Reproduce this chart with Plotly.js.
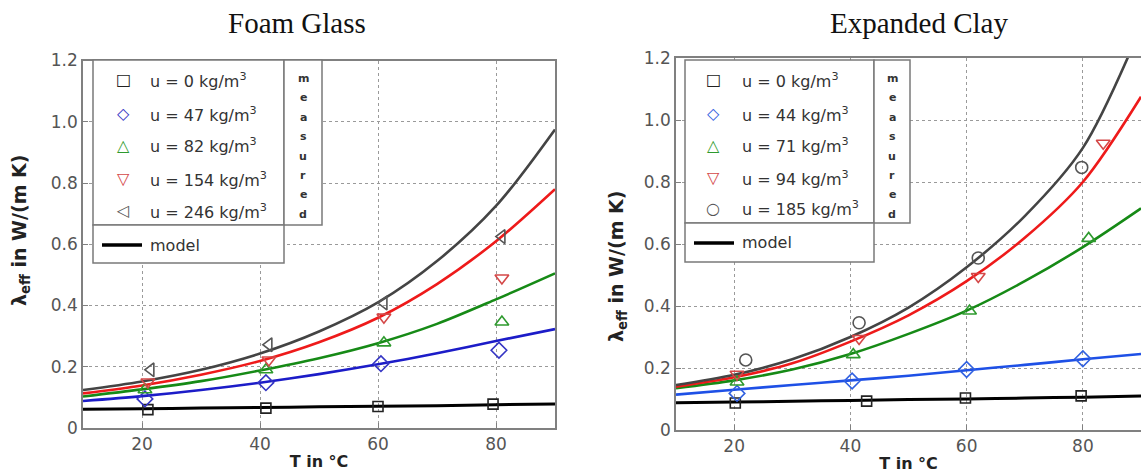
<!DOCTYPE html>
<html><head><meta charset="utf-8">
<script src="https://cdn.plot.ly/plotly-3.0.1.min.js"></script>
<style>html,body{margin:0;padding:0;background:#fff}#chart{width:1141px;height:475px}</style>
</head><body><div id="chart"></div>
<script>
// ================= DATA =================
const titles = ['Foam Glass', 'Expanded Clay'];
const xTickVals = [20, 40, 60, 80];
const yTickVals = [0, 0.2, 0.4, 0.6, 0.8, 1.0, 1.2];
const yTickText = ['0', '0.2', '0.4', '0.6', '0.8', '1.0', '1.2'];

// model curve temperatures (°C)
const T_model = [10, 20, 30, 40, 50, 60, 70, 80, 90];

// ---- Foam Glass ----
const fg_density = [0, 47, 82, 154, 246];
const fg_model_0   = [0.061, 0.063, 0.065, 0.067, 0.069, 0.071, 0.073, 0.076, 0.078];
const fg_model_47  = [0.088, 0.104, 0.124, 0.148, 0.176, 0.208, 0.244, 0.284, 0.323];
const fg_model_82  = [0.103, 0.126, 0.153, 0.188, 0.228, 0.277, 0.340, 0.420, 0.505];
const fg_model_154 = [0.113, 0.139, 0.174, 0.219, 0.280, 0.360, 0.470, 0.610, 0.780];
const fg_model_246 = [0.124, 0.152, 0.190, 0.243, 0.315, 0.410, 0.545, 0.725, 0.975];
const fg_T_0   = [21, 41, 60, 79.5];   const fg_meas_0   = [0.060, 0.065, 0.070, 0.078];
const fg_T_47  = [20.5, 41, 60.5, 80.5]; const fg_meas_47 = [0.095, 0.148, 0.210, 0.254];
const fg_T_82  = [20.5, 41, 61, 81];   const fg_meas_82  = [0.125, 0.190, 0.278, 0.346];
const fg_T_154 = [21, 41.5, 61, 81];   const fg_meas_154 = [0.150, 0.222, 0.362, 0.490];
const fg_T_246 = [21.5, 41.5, 61, 81]; const fg_meas_246 = [0.190, 0.272, 0.408, 0.625];

// ---- Expanded Clay ----
const ec_density = [0, 44, 71, 94, 185];
const ec_model_0   = [0.088, 0.090, 0.093, 0.095, 0.098, 0.100, 0.103, 0.106, 0.110];
const ec_model_44  = [0.114, 0.130, 0.145, 0.160, 0.175, 0.193, 0.210, 0.228, 0.245];
const ec_model_71  = [0.135, 0.160, 0.195, 0.245, 0.310, 0.385, 0.480, 0.590, 0.715];
const ec_model_94  = [0.140, 0.170, 0.215, 0.285, 0.370, 0.480, 0.620, 0.800, 1.075];
const ec_model_185 = [0.145, 0.178, 0.228, 0.300, 0.395, 0.525, 0.690, 0.910, 1.300];
const ec_T_0   = [20.2, 42.8, 59.8, 79.7]; const ec_meas_0   = [0.087, 0.093, 0.103, 0.110];
const ec_T_44  = [20.5, 40.3, 60, 80];     const ec_meas_44  = [0.118, 0.158, 0.195, 0.230];
const ec_T_71  = [20.5, 40.5, 60.5, 81];   const ec_meas_71  = [0.155, 0.243, 0.384, 0.618];
const ec_T_94  = [20.5, 41.5, 62, 83.5];   const ec_meas_94  = [0.180, 0.295, 0.495, 0.925];
const ec_T_185 = [22, 41.5, 62, 79.8];     const ec_meas_185 = [0.226, 0.346, 0.555, 0.847];

// ================= STYLE =================
const W = 1141, H = 475;
const fx = p => p / W;
const fy = p => 1 - p / H;
const SANS = 'DejaVu Sans, Arial, sans-serif';

const fgLineColors = ['#000000', '#1c1cc8', '#168a16', '#ee1a1a', '#444444'];
const ecLineColors = ['#000000', '#1e50e6', '#168a16', '#ee1a1a', '#444444'];
const fgMarkColors = ['#222222', '#3434c4', '#2e9a2e', '#d44848', '#555555'];
const ecMarkColors = ['#222222', '#3060e0', '#2e9a2e', '#d44848', '#555555'];
const fgSymbols = ['square-open', 'diamond-open', 'triangle-up-open', 'triangle-down-open', 'triangle-left-open'];
const ecSymbols = ['square-open', 'diamond-open', 'triangle-up-open', 'triangle-down-open', 'circle-open'];
const fgGlyphs = ['□', '◇', '△', '▽', '◁'];
const ecGlyphs = ['□', '◇', '△', '▽', '○'];
const markSizes = [10, 12, 12, 12, 12];

const fgModels = [fg_model_0, fg_model_47, fg_model_82, fg_model_154, fg_model_246];
const fgMeasT = [fg_T_0, fg_T_47, fg_T_82, fg_T_154, fg_T_246];
const fgMeas = [fg_meas_0, fg_meas_47, fg_meas_82, fg_meas_154, fg_meas_246];
const ecModels = [ec_model_0, ec_model_44, ec_model_71, ec_model_94, ec_model_185];
const ecMeasT = [ec_T_0, ec_T_44, ec_T_71, ec_T_94, ec_T_185];
const ecMeas = [ec_meas_0, ec_meas_44, ec_meas_71, ec_meas_94, ec_meas_185];

const traces = [];
function addSet(models, measT, meas, lineColors, markColors, symbols, density, xa, ya) {
  models.forEach((m, i) => {
    traces.push({x: T_model, y: m, xaxis: xa, yaxis: ya, type: 'scatter', mode: 'lines',
      line: {color: lineColors[i], width: i === 0 ? 3 : 2.6, shape: 'spline', smoothing: 0.9},
      name: 'model u=' + density[i], showlegend: false, hoverinfo: 'skip'});
  });
  meas.forEach((m, i) => {
    traces.push({x: measT[i], y: m, xaxis: xa, yaxis: ya, type: 'scatter', mode: 'markers',
      marker: {symbol: symbols[i], size: markSizes[i], color: markColors[i], line: {width: 1.6, color: markColors[i]}},
      name: 'u=' + density[i], showlegend: false, cliponaxis: false});
  });
}
addSet(fgModels, fgMeasT, fgMeas, fgLineColors, fgMarkColors, fgSymbols, fg_density, 'x', 'y');
addSet(ecModels, ecMeasT, ecMeas, ecLineColors, ecMarkColors, ecSymbols, ec_density, 'x2', 'y2');

function xAxis(domain, anchor) {
  return {domain: domain, anchor: anchor, range: [10, 90], tickvals: xTickVals,
    showgrid: true, gridcolor: '#9a9a9a', griddash: 'dot', gridwidth: 1, zeroline: false,
    showline: true, mirror: true, linecolor: '#808080', linewidth: 1.5,
    ticks: 'inside', ticklen: 5, tickcolor: '#808080',
    tickfont: {family: SANS, size: 17, color: '#555'},
    title: {text: '<b>T in °C</b>', font: {family: SANS, size: 16, color: '#222'}, standoff: 3},
    fixedrange: true};
}
function yAxis(domain, anchor) {
  return {domain: domain, anchor: anchor, range: [0, 1.2], tickvals: yTickVals, ticktext: yTickText,
    showgrid: true, gridcolor: '#9a9a9a', griddash: 'dot', gridwidth: 1, zeroline: false,
    showline: true, mirror: true, linecolor: '#808080', linewidth: 1.5,
    ticks: 'inside', ticklen: 5, tickcolor: '#808080',
    tickfont: {family: SANS, size: 17, color: '#555'}, fixedrange: true};
}

const annotations = [];
const shapes = [];
function ann(text, x, y, font, extra) {
  annotations.push(Object.assign({text: text, x: fx(x), y: fy(y), xref: 'paper', yref: 'paper',
    showarrow: false, xanchor: 'center', yanchor: 'middle', font: font}, extra || {}));
}
function rect(x0, y0, x1, y1) {
  shapes.push({type: 'rect', xref: 'paper', yref: 'paper', x0: fx(x0), x1: fx(x1), y0: fy(y1), y1: fy(y0),
    line: {color: '#7a7a7a', width: 1.5}, fillcolor: '#ffffff', layer: 'above'});
}

// titles
ann(titles[0], 297, 23, {family: 'Liberation Serif, Times New Roman, serif', size: 29, color: '#111'});
ann(titles[1], 919, 23, {family: 'Liberation Serif, Times New Roman, serif', size: 29, color: '#111'});
// y-axis titles
ann('<b>λ<sub>eff</sub> in W/(m K)</b>', 21, 230, {family: SANS, size: 19, color: '#222'}, {textangle: -90});
ann('<b>λ<sub>eff</sub> in W/(m K)</b>', 617, 266, {family: SANS, size: 19, color: '#222'}, {textangle: -90});

// legends
function legend(x0, xDiv, xRight, yTop, yDiv, yBot, markX, textX, glyphs, colors, density, rowYs, modelY) {
  rect(x0, yTop, xDiv, yDiv);
  rect(xDiv, yTop, xRight, yDiv);
  rect(x0, yDiv, xDiv, yBot);
  density.forEach((d, i) => {
    ann(glyphs[i], markX, rowYs[i], {family: 'DejaVu Sans', size: 16, color: colors[i]});
    ann('u = ' + d + ' kg/m<sup>3</sup>', textX, rowYs[i] + 1, {family: SANS, size: 16, color: '#333'}, {xanchor: 'left'});
  });
  'measured'.split('').forEach((c, i) => {
    ann('<b>' + c + '</b>', (xDiv + xRight) / 2, yTop + 18 + i * 19.5, {family: SANS, size: 11, color: '#333'});
  });
  shapes.push({type: 'line', xref: 'paper', yref: 'paper', x0: fx(x0 + 9), x1: fx(x0 + 49), y0: fy(modelY), y1: fy(modelY),
    line: {color: '#000', width: 3.5}, layer: 'above'});
  ann('model', textX, modelY, {family: SANS, size: 16, color: '#333'}, {xanchor: 'left'});
}
legend(93, 284, 322, 60, 225, 263, 123, 148, fgGlyphs, fgMarkColors, fg_density, [80, 113, 145, 178, 210], 245);
legend(685, 874, 910, 60, 223, 262, 713, 740, ecGlyphs, ecMarkColors, ec_density, [80, 113, 145, 177, 208], 243);

const layout = {
  width: W, height: H, margin: {l: 0, r: 0, t: 0, b: 0},
  paper_bgcolor: '#fff', plot_bgcolor: '#fff', showlegend: false,
  xaxis: xAxis([fx(83), fx(555)], 'y'),
  yaxis: yAxis([fy(428), fy(60.5)], 'x'),
  xaxis2: xAxis([fx(676), 1], 'y2'),
  yaxis2: yAxis([fy(430), fy(58)], 'x2'),
  annotations: annotations, shapes: shapes
};
Plotly.newPlot('chart', traces, layout, {displayModeBar: false, responsive: false});
</script></body></html>
